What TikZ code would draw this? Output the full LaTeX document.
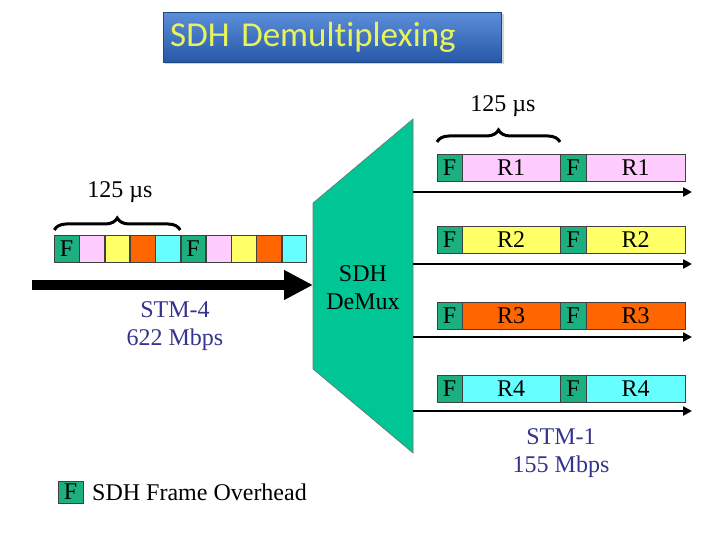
\documentclass[tikz,border=0pt]{standalone}
\usepackage{fontspec}
\setmainfont{Liberation Serif}
\newfontfamily\titlefont[Ligatures=NoCommon]{Carlito}
\usepackage{xcolor}
\usepackage{tikz}
\usetikzlibrary{positioning}
\usetikzlibrary{matrix}
\usetikzlibrary{arrows.meta,decorations.pathreplacing,shadows}

\definecolor{ohgreen}{RGB}{28,176,128}
\definecolor{dmxgreen}{RGB}{0,198,150}
\definecolor{rpink}{RGB}{255,204,255}
\definecolor{ryellow}{RGB}{255,255,102}
\definecolor{rorange}{RGB}{255,102,0}
\definecolor{rcyan}{RGB}{102,255,255}
\definecolor{stmblue}{RGB}{52,52,142}
\definecolor{titletop}{RGB}{92,142,218}
\definecolor{titlebot}{RGB}{38,88,168}
\definecolor{titletext}{RGB}{232,244,90}

\begin{document}
\begin{tikzpicture}[x=1pt, y=-1pt, >=Stealth,
    cell/.style={draw=black!75, line width=0.6pt, outer sep=0pt, inner sep=0pt,
                 minimum height=27pt, font=\fontsize{24}{24}\selectfont},
    oh/.style={cell, fill=ohgreen, font=\fontsize{24}{24}\selectfont},
    bracket/.style={decorate, decoration={brace, amplitude=12pt}, line width=3pt},
    txt/.style={font=\fontsize{24}{28}\selectfont, inner sep=0pt},
    stm/.style={txt, text=stmblue, align=center},
    lane/.style={line width=2.7pt, -{Triangle[length=9pt,width=9pt]}}
  ]
  \useasboundingbox (0,0) rectangle (720,540);

  % title
  \node[anchor=north west, minimum width=338pt, minimum height=50pt,
        text width=324pt, align=left, top color=titletop, bottom color=titlebot,
        draw=titlebot!80!black, drop shadow={opacity=0.35},
        font=\titlefont\fontsize{35}{38}\selectfont, text=titletext]
        (title) at (163,12) {SDH Demultiplexing};

  % STM-4 input frame
  \matrix (stm4) [%
    matrix of nodes,
    nodes in empty cells,
    nodes={cell, minimum width=24.7pt, anchor=center},
    column sep=0pt,
    inner sep=0pt, outer sep=0pt,
    anchor=west,
    ampersand replacement=\&
  ] at (54,248.5)
  {
    |[oh]| F \& |[fill=rpink]| \& |[fill=ryellow]| \& |[fill=rorange]| \& |[fill=rcyan]|
    \& |[oh]| F \& |[fill=rpink]| \& |[fill=ryellow]| \& |[fill=rorange]| \& |[fill=rcyan]| \\
  };
  \coordinate (bl) at ([yshift=5pt]stm4-1-1.north west);
  \coordinate (br) at ([yshift=5pt]stm4-1-5.north east);
  \draw[bracket] (bl) -- (br);
  \node[txt, anchor=base] (tin) at (120,198) {125 µs};

  \coordinate (src) at (32,285);
  \coordinate (dmxin) at (313,285);
  \draw[line width=10pt, -{Triangle[length=29pt,width=28pt]}] (src) -- (dmxin);

  \node[stm] (stm4lbl) at (175,326) {STM-4\\622 Mbps};

  % demultiplexer
  \draw[fill=dmxgreen, draw=black!55, line width=0.6pt]
    (313,203) -- (413,119) -- (413,453) -- (313,369) -- cycle;
  \node[txt, align=center] (demux) at (363,288) {SDH\\DeMux};

  % STM-1 outputs
  \foreach \i/\col/\y/\ay in {1/rpink/167.5/192, 2/ryellow/240/264, 3/rorange/316/337, 4/rcyan/389/411}{
    \node[oh, minimum width=25pt] (fa\i) at (449.5,\y) {F};
    \node[cell, fill=\col, minimum width=98pt, right=0pt of fa\i] (ra\i) {R\i};
    \node[oh, minimum width=26pt, right=0pt of ra\i] (fb\i) {F};
    \node[cell, fill=\col, minimum width=99pt, right=0pt of fb\i] (rb\i) {R\i};
    \coordinate (out\i) at (413,\ay);
    \coordinate (end\i) at (692,\ay);
    \draw[lane] (out\i) -- (end\i);
  }
  \coordinate (tl) at ([yshift=12pt]fa1.north west);
  \coordinate (tr) at ([yshift=12pt]ra1.north east);
  \draw[bracket] (tl) -- (tr);
  \node[txt, anchor=base] (tout) at (503,112) {125 µs};

  \node[stm] (stm1lbl) at (561,453) {STM-1\\155 Mbps};

  % legend
  \node[oh, minimum width=25pt, minimum height=22pt] (key) at (70.5,492) {F};
  \node[txt, anchor=west, right=9pt of key] (keylbl) {SDH Frame Overhead};
\end{tikzpicture}
\end{document}
